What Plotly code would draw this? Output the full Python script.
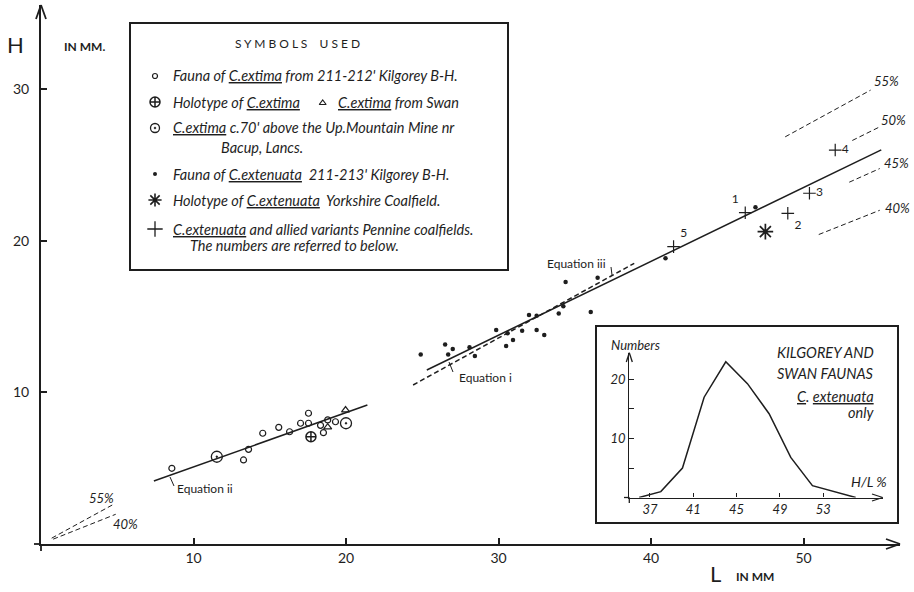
import plotly.graph_objects as go

# ------------------------------------------------------------------ data
# C. extima fauna 211-212' Kilgorey B-H (small open circles)
extima_L = [8.58, 13.28, 13.61, 14.54, 15.59, 16.30, 17.02, 17.54, 17.54, 18.33, 18.52, 18.80, 19.31]
extima_H = [4.99, 5.54, 6.24, 7.30, 7.69, 7.40, 7.96, 8.62, 7.96, 7.82, 7.34, 8.18, 8.06]
# C. extima from Swan (triangles)
swan_L = [19.97, 18.80]
swan_H = [8.83, 7.70]
# Holotype of C. extima
extima_holo_L = [17.70]
extima_holo_H = [7.07]
# C. extima c.70' above Up. Mountain Mine, Bacup
bacup_L = [11.53, 20.00]
bacup_H = [5.75, 7.96]
# C. extenuata fauna 211-213' Kilgorey B-H (dots)
extenuata_L = [24.9, 26.5, 26.7, 27.0, 28.1, 28.45, 29.85, 30.5, 30.6, 30.95, 31.55, 32.0,
               32.5, 32.5, 33.0, 33.95, 34.25, 34.4, 36.05, 36.5, 40.95, 46.85]
extenuata_H = [12.5, 13.15, 12.5, 12.85, 12.97, 12.4, 14.1, 13.05, 13.9, 13.45, 14.05, 15.1,
               14.1, 15.05, 13.78, 15.2, 15.67, 17.27, 15.3, 17.55, 18.83, 22.2]
# Holotype of C. extenuata (Yorkshire)
extenuata_holo_L = [47.5]
extenuata_holo_H = [20.59]
# C. extenuata & allied variants, Pennine coalfields (numbered crosses)
pennine_L = [41.48, 46.18, 48.97, 50.39, 52.08]
pennine_H = [19.60, 21.84, 21.80, 23.12, 25.97]
pennine_labels = ["5", "1", "2", "3", "4"]

# fitted equations H = slope*L + intercept
eq_names = ["Equation i", "Equation ii", "Equation iii"]
eq_slope = [0.487, 0.358, 0.553]
eq_intercept = [-0.85, 1.50, -3.01]
eq_Lmin = [25.3, 7.4, 24.4]
eq_Lmax = [55.1, 21.4, 38.9]

# H/L percentage guide lines
pct_values = [55, 50, 45, 40]
pct_Lmin = [48.8, 53.2, 53.0, 51.0]
pct_Lmax = [54.4, 54.9, 55.0, 55.0]
pct_low_values = [55, 40]
pct_low_Lmin = [0.7, 0.8]
pct_low_Lmax = [4.8, 4.9]

# inset: frequency of H/L % (Kilgorey and Swan, C. extenuata only)
hl_classes = [36, 38, 40, 42, 44, 46, 48, 50, 52, 54, 56]
hl_counts = [0, 1, 5, 17, 23, 19.3, 14.2, 6.8, 2, 1, 0]

x_ticks = [10, 20, 30, 40, 50]
y_ticks = [10, 20, 30]
inset_x_ticks = [37, 41, 45, 49, 53]
inset_y_ticks = [5, 10, 15, 20]
inset_y_ticktext = ["", "10", "", "20"]

# ------------------------------------------------------------------ layout helpers
W, H = 914, 592
ML, MR, MT, MB = 41, 14, 5, 48
PW, PH = W - ML - MR, H - MT - MB
SX, SY = 15.25, 15.17           # pixels per mm
XMAX, YMAX = PW / SX, PH / SY
INK = "#1e1e1e"
FONT = "Lato, 'Open Sans', sans-serif"
NBSP = "\u00a0"


def X(px):
    return (px - ML) / SX


def Y(py):
    return (H - MB - py) / SY


def PXp(px):
    return (px - ML) / PW


def PYp(py):
    return (H - MB - py) / PH


fig = go.Figure()

# fitted lines
eq_dash = ["solid", "solid", "5px,3px"]
for s, b, a0, a1, d in zip(eq_slope, eq_intercept, eq_Lmin, eq_Lmax, eq_dash):
    fig.add_trace(go.Scatter(x=[a0, a1], y=[s * a0 + b, s * a1 + b], mode="lines",
                             line=dict(color=INK, width=1.5, dash=d), hoverinfo="skip"))

# percentage guide lines
for p, a0, a1 in list(zip(pct_values, pct_Lmin, pct_Lmax)) + list(zip(pct_low_values, pct_low_Lmin, pct_low_Lmax)):
    fig.add_trace(go.Scatter(x=[a0, a1], y=[p / 100 * a0, p / 100 * a1], mode="lines",
                             line=dict(color=INK, width=1, dash="5px,3px"), hoverinfo="skip"))

# points
fig.add_trace(go.Scatter(x=extima_L, y=extima_H, mode="markers",
                         marker=dict(symbol="circle-open", size=6, color=INK, line=dict(width=1.2))))
fig.add_trace(go.Scatter(x=swan_L, y=swan_H, mode="markers",
                         marker=dict(symbol="triangle-up-open", size=7, color=INK, line=dict(width=1.2))))
fig.add_trace(go.Scatter(x=extima_holo_L, y=extima_holo_H, mode="markers",
                         marker=dict(symbol="circle-cross-open", size=10, color=INK, line=dict(width=1.5))))
fig.add_trace(go.Scatter(x=bacup_L, y=bacup_H, mode="markers",
                         marker=dict(symbol="circle-open-dot", size=11, color=INK, line=dict(width=1.3))))
fig.add_trace(go.Scatter(x=extenuata_L, y=extenuata_H, mode="markers",
                         marker=dict(symbol="circle", size=4.5, color=INK)))
fig.add_trace(go.Scatter(x=extenuata_holo_L, y=extenuata_holo_H, mode="markers",
                         marker=dict(symbol="asterisk-open", size=13, color=INK, line=dict(width=1.7))))
fig.add_trace(go.Scatter(x=pennine_L, y=pennine_H, mode="markers+text", text=pennine_labels,
                         textposition=["top right", "top left", "bottom right", "middle right", "middle right"],
                         textfont=dict(family=FONT, size=12, color=INK),
                         marker=dict(symbol="cross-thin-open", size=9, color=INK, line=dict(width=1.2))))

# legend symbols
leg_x = X(155)
leg_items = [
    (leg_x, 76, "circle-open", 5, 1.2),
    (leg_x, 102, "circle-cross-open", 10, 1.5),
    (X(322.7), 103, "triangle-up-open", 6, 1.2),
    (leg_x, 128, "circle-open-dot", 9, 1.3),
    (leg_x, 174, "circle", 4, 0),
    (leg_x, 200, "asterisk-open", 11, 1.6),
    (leg_x, 229, "cross-thin-open", 11, 1.3),
]
for lx, py, sym, sz, lw in leg_items:
    fig.add_trace(go.Scatter(x=[lx], y=[Y(py)], mode="markers",
                             marker=dict(symbol=sym, size=sz, color=INK, line=dict(width=lw, color=INK))))

# inset curve
fig.add_trace(go.Scatter(x=hl_classes, y=hl_counts, mode="lines", xaxis="x2", yaxis="y2",
                         line=dict(color=INK, width=1.5), hoverinfo="skip"))

shapes = []


def pline(x0, y0, x1, y1, w=1.8):
    shapes.append(dict(type="line", xref="paper", yref="paper", x0=PXp(x0), y0=PYp(y0),
                       x1=PXp(x1), y1=PYp(y1), line=dict(color=INK, width=w)))


# main axes arrowheads and small extensions
pline(900, 544, 886, 539)
pline(900, 544, 886, 549)
pline(41, 5, 36, 19)
pline(41, 5, 46, 19)
pline(41, 544, 41, 551)
pline(34, 544, 41, 544)
# inset axes arrowheads
pline(882.7, 497.5, 872, 494, 1.3)
pline(882.7, 497.5, 872, 501, 1.3)
pline(629.3, 352.7, 626.3, 362, 1.3)
pline(629.3, 352.7, 632.3, 362, 1.3)
pline(629.3, 497.5, 629.3, 503, 1.3)
pline(624, 497.5, 629.3, 497.5, 1.3)
# boxes
shapes.append(dict(type="rect", xref="paper", yref="paper", x0=PXp(130), y0=PYp(270),
                   x1=PXp(508), y1=PYp(23), line=dict(color=INK, width=2)))
shapes.append(dict(type="rect", xref="paper", yref="paper", x0=PXp(596), y0=PYp(523),
                   x1=PXp(898), y1=PYp(326), line=dict(color=INK, width=2)))
# equation pointers
pline(170, 477, 174, 486, 1)
pline(449, 362, 453, 372, 1)
pline(611, 267, 612, 275, 1)

annotations = []


def txt(px, py, s, size=12, anchor="center", italic=False, color=INK):
    if italic:
        s = "<i>" + s + "</i>"
    annotations.append(dict(xref="paper", yref="paper", x=PXp(px), y=PYp(py), text=s,
                            showarrow=False, xanchor=anchor, yanchor="middle",
                            font=dict(family=FONT, size=size, color=color)))


# axis titles
txt(15, 45, "H", 22)
txt(84, 46, "<b>IN MM.</b>", 12)
txt(715, 573, "L", 22)
txt(755, 576, "<b>IN MM</b>", 12)

# legend box text
txt(297, 43, "S Y M B O L S    U S E D", 12)
LT = 171
LS = 14.5
txt(LT, 76, "Fauna of <u>C.extima</u> from 211-212' Kilgorey B-H.", LS, "left", True)
txt(LT, 102, "Holotype of <u>C.extima</u>", LS, "left", True)
txt(336, 102, "<u>C.extima</u> from Swan", LS, "left", True)
txt(LT, 128, "<u>C.extima</u> c.70' above the Up.Mountain Mine nr", LS, "left", True)
txt(219, 148, "Bacup, Lancs.", LS, "left", True)
txt(LT, 174, "Fauna of <u>C.extenuata</u>  211-213' Kilgorey B-H.", LS, "left", True)
txt(LT, 200, "Holotype of <u>C.extenuata</u>  Yorkshire Coalfield.", LS, "left", True)
txt(LT, 229, "<u>C.extenuata</u> and allied variants Pennine coalfields.", LS, "left", True)
txt(188, 245, "The numbers are referred to below.", LS, "left", True)

# equation labels
txt(175, 488, "Equation ii", 12, "left")
txt(457, 377, "Equation i", 12, "left")
txt(545, 263, "Equation iii", 12, "left")

# percentage labels
for p, (px, py) in zip(pct_values, [(886, 81), (893, 120), (896, 163), (897, 208)]):
    txt(px, py, f"{p}%", 13, italic=True)
for p, (px, py) in zip(pct_low_values, [(101, 498), (125, 524)]):
    txt(px, py, f"{p}%", 13, italic=True)

# inset text
txt(635, 345, "Numbers", 13, italic=True)
txt(876, 352, "KILGOREY AND", 14.5, "right", True)
txt(876, 373, "SWAN FAUNAS", 14.5, "right", True)
txt(876, 396, "<u>C</u>. <u>extenuata</u>", 14.5, "right", True)
txt(876, 412, "only", 14.5, "right", True)
txt(869, 481, "H/L %", 14, italic=True)

axis_common = dict(showgrid=False, zeroline=False, showline=True, linecolor=INK,
                   ticks="inside", tickcolor=INK, automargin=False, fixedrange=True)

fig.update_layout(
    width=W, height=H, margin=dict(l=ML, r=MR, t=MT, b=MB, autoexpand=False),
    paper_bgcolor="white", plot_bgcolor="rgba(0,0,0,0)", showlegend=False,
    shapes=shapes, annotations=annotations,
    xaxis=dict(range=[0, XMAX], linewidth=1.8, ticklen=6, tickwidth=1.5,
               tickvals=x_ticks, tickfont=dict(family=FONT, size=14, color=INK), **axis_common),
    yaxis=dict(range=[0, YMAX], linewidth=1.8, ticklen=6, tickwidth=1.5,
               tickvals=y_ticks, ticktext=[f"{v}{NBSP}{NBSP}" for v in y_ticks],
               tickfont=dict(family=FONT, size=14, color=INK), **axis_common),
    xaxis2=dict(domain=[PXp(629.3), PXp(882.7)], anchor="y2", range=[35.09, 58.49],
                linewidth=1.3, ticklen=4, tickwidth=1, tickvals=inset_x_ticks,
                ticktext=["<i>%d</i>" % v for v in inset_x_ticks],
                tickfont=dict(family=FONT, size=13, color=INK), **axis_common),
    yaxis2=dict(domain=[PYp(497.5), PYp(352.7)], anchor="x2", range=[0, 24.54],
                linewidth=1.3, ticklen=5, tickwidth=1, tickvals=inset_y_ticks,
                ticktext=["<i>%s</i>" % t for t in inset_y_ticktext],
                tickfont=dict(family=FONT, size=13, color=INK), **axis_common),
)

fig.write_html("out.html")
